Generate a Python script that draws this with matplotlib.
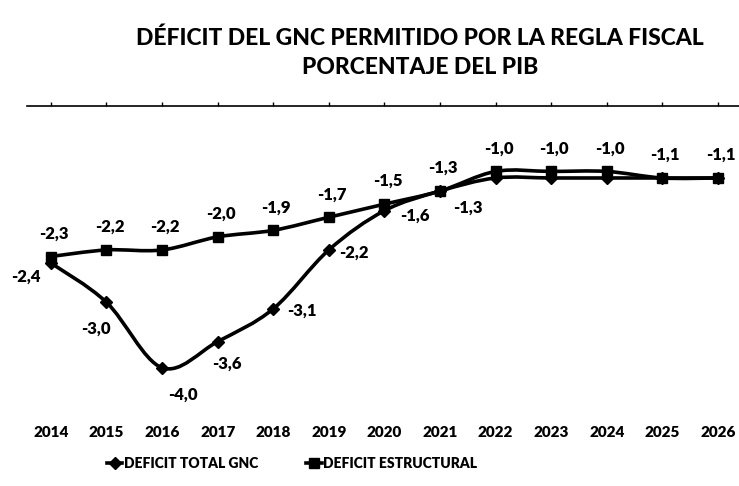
import numpy as np
import matplotlib.pyplot as plt
from matplotlib.path import Path
from matplotlib.patches import PathPatch
from matplotlib.lines import Line2D

plt.rcParams['font.family'] = ['Lato', 'DejaVu Sans']
plt.rcParams['font.weight'] = 'bold'

years = list(range(2014, 2027))
deficit_total = [-2.4, -3.0, -4.0, -3.6, -3.1, -2.2, -1.6, -1.3, -1.1, -1.1, -1.1, -1.1, -1.1]
deficit_estructural = [-2.3, -2.2, -2.2, -2.0, -1.9, -1.7, -1.5, -1.3, -1.0, -1.0, -1.0, -1.1, -1.1]
n_total_labels = 8  # only the first years of the total series carry a label

# label offsets in pixels
off_total = [(-25, -14), (-11, -26), (21, -27), (9, -22), (29, -2), (25, -3), (30, -5), (28, -17)]
off_estr = (3, 23)


def smooth_path(x, y):
    # catmull-rom style bezier, like the "smoothed line" option in Excel
    pts = np.column_stack([x, y]).astype(float)
    n = len(pts)
    verts = [pts[0]]
    codes = [Path.MOVETO]
    for i in range(n - 1):
        p0 = pts[max(i - 1, 0)]
        p1 = pts[i]
        p2 = pts[i + 1]
        p3 = pts[min(i + 2, n - 1)]
        verts += [p1 + (p2 - p0) / 6, p2 - (p3 - p1) / 6, p2]
        codes += [Path.CURVE4] * 3
    return Path(verts, codes)


def fmt(v):
    return ('%.1f' % v).replace('.', ',')


fig = plt.figure(figsize=(7.39, 4.86), dpi=100)
ax = fig.add_axes([27 / 739, 1 - 407 / 486, 1 - 27 / 739, (407 - 106) / 486])

for serie, mk, ms in [(deficit_total, 'D', 6), (deficit_estructural, 's', 7)]:
    ax.add_patch(PathPatch(smooth_path(years, serie), facecolor='none',
                           edgecolor='black', lw=2.6, zorder=2))
    ax.plot(years, serie, ls='none', marker=mk, ms=ms, color='black', zorder=3)

for i in range(n_total_labels):
    ax.annotate(fmt(deficit_total[i]), (years[i], deficit_total[i]),
                xytext=off_total[i], textcoords='offset pixels',
                ha='center', va='center', fontsize=12, fontweight='heavy')

for x, v in zip(years, deficit_estructural):
    ax.annotate(fmt(v), (x, v), xytext=off_estr, textcoords='offset pixels',
                ha='center', va='center', fontsize=12, fontweight='heavy')

ax.set_xlim(2013.57, 2026.38)
ax.set_ylim(-4.6, 0)
ax.set_yticks([])
ax.set_xticks(years)
ax.set_xticklabels([str(y) for y in years], fontsize=11, fontweight='heavy')
ax.tick_params(axis='x', top=True, bottom=False, labelbottom=True, labeltop=False,
               direction='out', length=3, width=1, pad=11)
for s in ['left', 'right', 'bottom']:
    ax.spines[s].set_visible(False)
ax.spines['top'].set_linewidth(1.2)

fig.text(420 / 739, 1 - 38 / 486, 'DÉFICIT DEL GNC PERMITIDO POR LA REGLA FISCAL',
         ha='center', va='center', fontsize=16.5, fontweight='black')
fig.text(420 / 739, 1 - 68 / 486, 'PORCENTAJE DEL PIB',
         ha='center', va='center', fontsize=16.5, fontweight='black')

handles = [Line2D([], [], color='black', lw=2.6, marker='D', ms=6),
           Line2D([], [], color='black', lw=2.6, marker='s', ms=7)]
fig.legend(handles, ['DEFICIT TOTAL GNC', 'DEFICIT ESTRUCTURAL'], loc='center',
           bbox_to_anchor=(292 / 739, 1 - 463 / 486), ncol=2, frameon=False,
           handlelength=1.1, handletextpad=0.1, columnspacing=3.5,
           prop={'size': 10, 'weight': 'heavy'})

fig.savefig('out.png', dpi=100)
